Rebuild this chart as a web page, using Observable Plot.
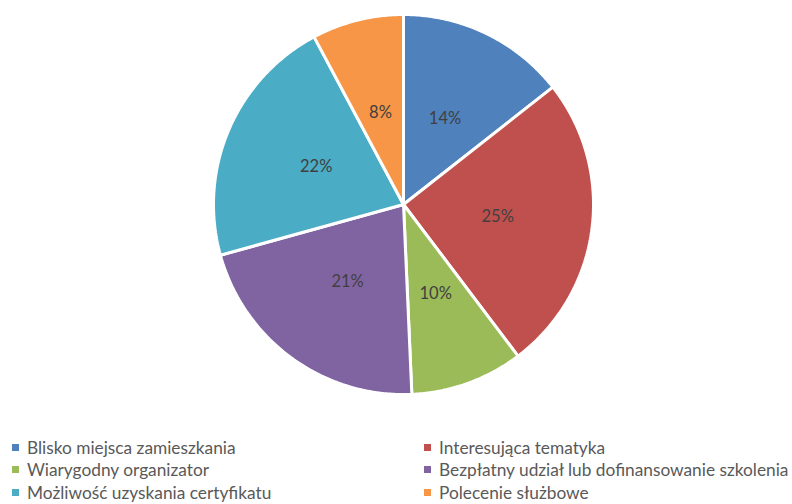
<!DOCTYPE html>
<html>
<head>
<meta charset="utf-8">
<script src="https://cdn.jsdelivr.net/npm/d3@7"></script>
<script src="https://cdn.jsdelivr.net/npm/@observablehq/plot@0.6"></script>
<style>
  body { margin: 0; background: #fff; font-family: Lato, "Open Sans", sans-serif; }
  #wrap { position: relative; width: 792px; height: 504px; }
  #legend { position: absolute; left: 12px; top: 436px; display: grid; grid-template-columns: 412px 368px; row-gap: 0; }
  .item { display: flex; align-items: center; height: 22.5px; font-size: 17.3px; color: #595959; white-space: nowrap; }
  .sw { width: 7px; height: 7px; margin-right: 8px; flex: none; }
</style>
</head>
<body>
<div id="wrap"></div>
<script>
const categories = [
  "Blisko miejsca zamieszkania",
  "Interesująca tematyka",
  "Wiarygodny organizator",
  "Bezpłatny udział lub dofinansowanie szkolenia",
  "Możliwość uzyskania certyfikatu",
  "Polecenie służbowe"
];
const values = [14.4, 25.3, 9.6, 21.4, 21.5, 7.8];
const labels = ["14%", "25%", "10%", "21%", "22%", "8%"];
const colors = ["#4F81BD", "#C0504D", "#9BBB59", "#8064A2", "#4BACC6", "#F79646"];

// Slice geometry from the values via d3.pie (angles clockwise from top)
const arcs = d3.pie().sort(null).value(d => d)(values);
const polys = [];
const labelPts = [];
arcs.forEach((a, i) => {
  const name = categories[i];
  polys.push({name, x: 0, y: 0});
  const steps = Math.max(2, Math.ceil((a.endAngle - a.startAngle) / 0.01));
  for (let k = 0; k <= steps; k++) {
    const t = a.startAngle + (a.endAngle - a.startAngle) * k / steps;
    polys.push({name, x: Math.sin(t), y: Math.cos(t)});
  }
  polys.push({name, x: 0, y: 0});
  const m = (a.startAngle + a.endAngle) / 2;
  labelPts.push({name, label: labels[i], x: 0.5 * Math.sin(m), y: 0.5 * Math.cos(m)});
});

const chart = Plot.plot({
  width: 792,
  height: 420,
  marginLeft: 213,
  marginRight: 199,
  marginTop: 14,
  marginBottom: 26,
  x: {domain: [-1, 1], axis: null},
  y: {domain: [-1, 1], axis: null},
  color: {domain: categories, range: colors},
  style: {fontFamily: "Lato, 'Open Sans', sans-serif", background: "#fff"},
  marks: [
    Plot.line(polys, {x: "x", y: "y", z: "name", fill: "name", stroke: "#fff", strokeWidth: 3, strokeLinejoin: "miter", curve: "linear"}),
    Plot.text(labelPts, {x: "x", y: "y", text: "label", fill: "#404040", fontSize: 16.5})
  ]
});
document.getElementById("wrap").appendChild(chart);

const legend = document.createElement("div");
legend.id = "legend";
categories.forEach((c, i) => {
  const it = document.createElement("div");
  it.className = "item";
  const sw = document.createElement("span");
  sw.className = "sw";
  sw.style.background = colors[i];
  it.appendChild(sw);
  it.appendChild(document.createTextNode(c));
  legend.appendChild(it);
});
document.getElementById("wrap").appendChild(legend);
</script>
</body>
</html>
